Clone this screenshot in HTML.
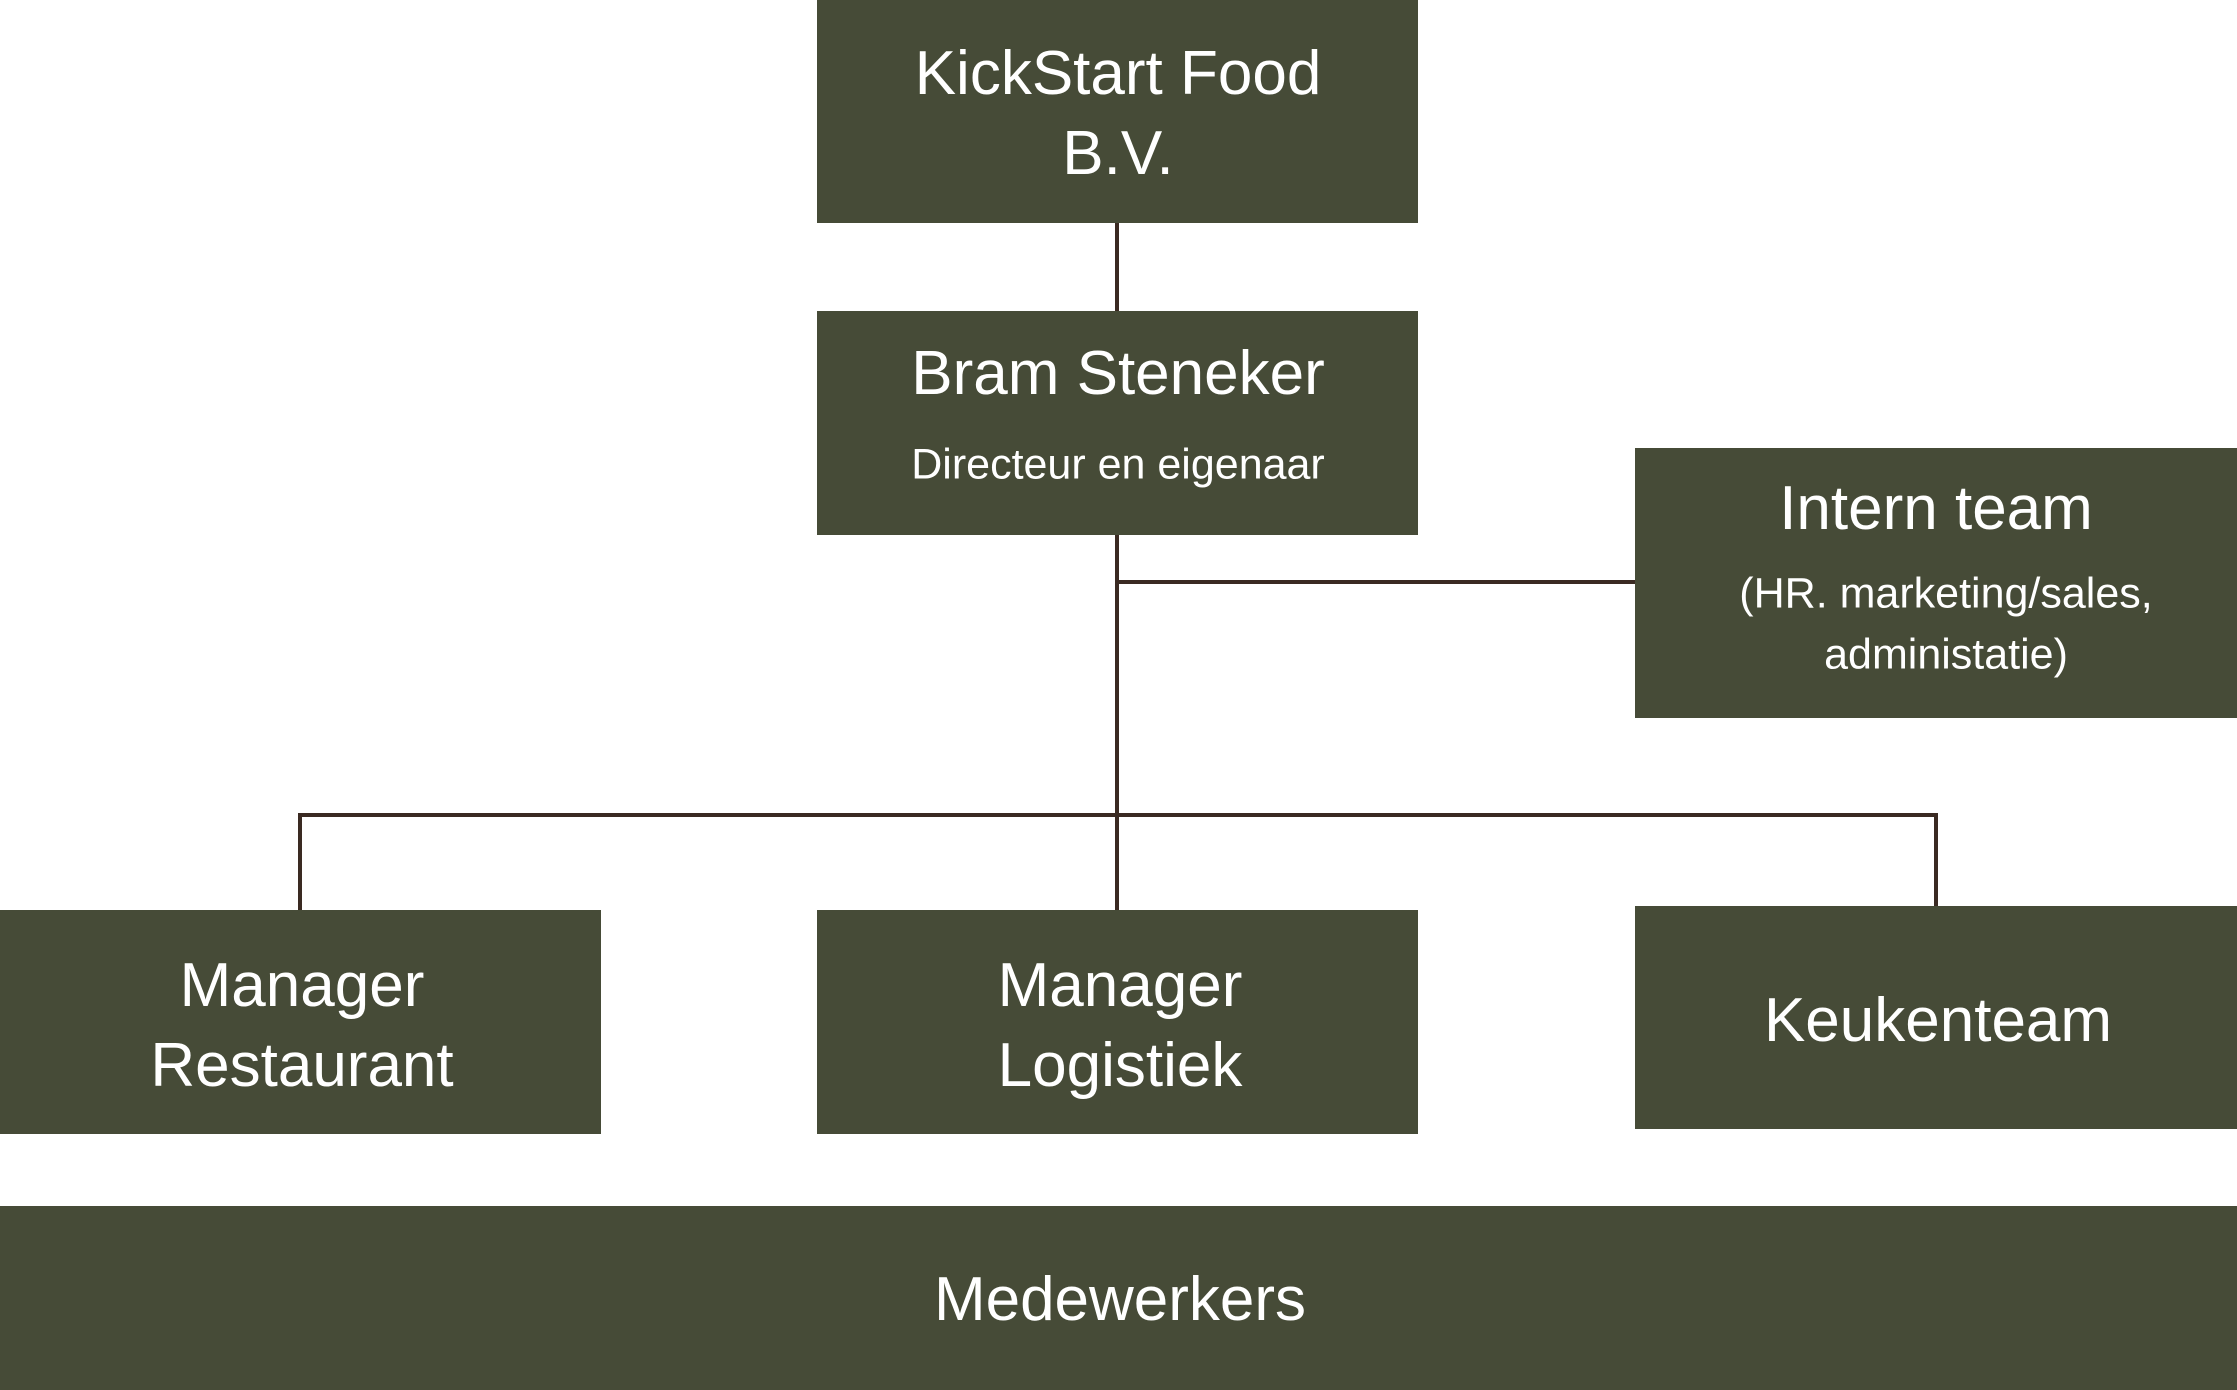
<!DOCTYPE html>
<html><head><meta charset="utf-8"><style>
html,body{margin:0;padding:0;background:#fff;}
body{width:2237px;height:1390px;position:relative;overflow:hidden;font-family:"Liberation Sans","DejaVu Sans",sans-serif;}
.b{position:absolute;background:#464b37;}
.t{position:absolute;color:#fff;text-align:center;white-space:nowrap;transform:translate(-50%,-50%);font-size:62px;line-height:1;}
.s{font-size:43px;}
.l{position:absolute;background:#3a2a22;}
</style></head><body>
<div class="b" style="left:817px;top:0;width:601px;height:223px"></div>
<div class="b" style="left:817px;top:311px;width:601px;height:224px"></div>
<div class="b" style="left:1635px;top:448px;width:602px;height:270px"></div>
<div class="b" style="left:0;top:910px;width:601px;height:224px"></div>
<div class="b" style="left:817px;top:910px;width:601px;height:224px"></div>
<div class="b" style="left:1635px;top:906px;width:602px;height:223px"></div>
<div class="b" style="left:0;top:1206px;width:2237px;height:184px"></div>

<div class="l" style="left:1115px;top:223px;width:4px;height:88px"></div>
<div class="l" style="left:1115px;top:535px;width:4px;height:375px"></div>
<div class="l" style="left:1115px;top:580px;width:520px;height:4px"></div>
<div class="l" style="left:298px;top:813px;width:1640px;height:4px"></div>
<div class="l" style="left:298px;top:813px;width:4px;height:97px"></div>
<div class="l" style="left:1934px;top:813px;width:4px;height:93px"></div>

<div class="t" style="left:1118px;top:74px">KickStart Food</div>
<div class="t" style="left:1118px;top:154px">B.V.</div>
<div class="t" style="left:1118px;top:374px">Bram Steneker</div>
<div class="t s" style="left:1118px;top:465px">Directeur en eigenaar</div>
<div class="t" style="left:1936px;top:509px">Intern team</div>
<div class="t s" style="left:1946px;top:594px">(HR. marketing/sales,</div>
<div class="t s" style="left:1946px;top:655px">administatie)</div>
<div class="t" style="left:302px;top:986px">Manager</div>
<div class="t" style="left:302px;top:1066px">Restaurant</div>
<div class="t" style="left:1120px;top:986px">Manager</div>
<div class="t" style="left:1120px;top:1066px">Logistiek</div>
<div class="t" style="left:1938px;top:1021px">Keukenteam</div>
<div class="t" style="left:1120px;top:1300px">Medewerkers</div>
</body></html>
